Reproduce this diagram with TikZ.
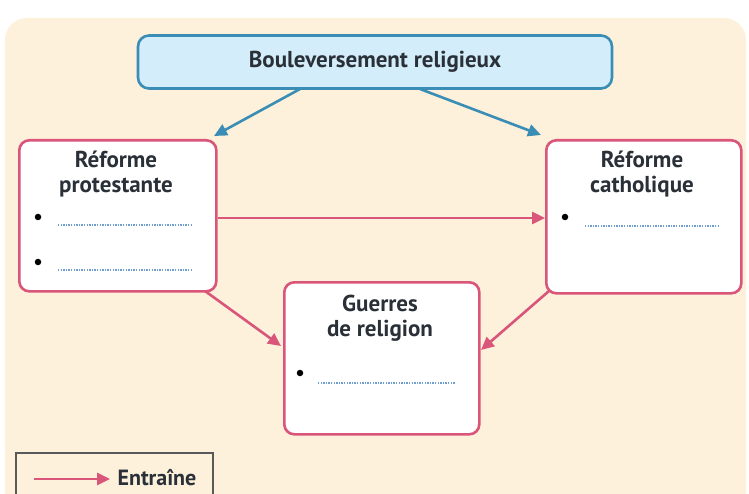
\documentclass[tikz,border=0pt]{standalone}
\usepackage{fontspec}
\setmainfont{PT Sans}
\usetikzlibrary{arrows.meta}
\definecolor{beige}{HTML}{FDF1DC}
\definecolor{pinkb}{HTML}{D9557A}
\definecolor{blueb}{HTML}{3A8DB4}
\definecolor{bluef}{HTML}{D3EDFA}
\definecolor{dotc}{HTML}{6E9FD0}
\definecolor{txt}{HTML}{2A3038}
\tikzset{
  px/.style={x=1pt,y=-1pt},
  pinkbox/.style={draw=pinkb,line width=2.6pt,fill=white,rounded corners=10pt},
  bluebox/.style={draw=blueb,line width=2.6pt,fill=bluef,rounded corners=11pt},
  title/.style={font=\bfseries\fontsize{23}{25}\selectfont,text=txt,align=center},
  pinkarrow/.style={draw=pinkb,line width=2.6pt,-{Triangle[length=13pt,width=12pt]}},
  bluearrow/.style={draw=blueb,line width=2.6pt,-{Triangle[length=13pt,width=12pt]}},
  dotline/.style={draw=dotc,line width=1.3pt,dash pattern=on 1.3pt off 1.3pt},
  bullet/.style={circle,fill=black,inner sep=0pt,minimum size=6.5pt},
}
\begin{document}
\begin{tikzpicture}[px]
\useasboundingbox (0,0) rectangle (749,494);
\fill[white] (0,0) rectangle (749,494);
\fill[beige,rounded corners=22pt] (5,18) rectangle (746,520);
% boxes
\node[bluebox,minimum width=474pt,minimum height=53pt] (top) at (375,62) {};
\node[title] (toptext) at (375,62) {Bouleversement religieux};
\node[pinkbox,minimum width=197pt,minimum height=151pt,anchor=north west] (left) at (18,139) {};
\node[pinkbox,minimum width=195pt,minimum height=153pt,anchor=north west] (right) at (545,139) {};
\node[pinkbox,minimum width=195pt,minimum height=152pt,anchor=north west] (center) at (283,281) {};
% titles
\node[title] (lt) at (116,174) {Réforme\\protestante};
\node[title] (rt) at (642,174) {Réforme\\catholique};
\node[title] (ct) at (380,318) {Guerres\\de religion};
% bullets and dotted lines
\node[bullet] (b1) at (38,217) {};
\coordinate (d1a) at (58,225); \coordinate (d1b) at (192,225);
\draw[dotline] (d1a) -- (d1b);
\node[bullet] (b2) at (38,262) {};
\coordinate (d2a) at (58,270); \coordinate (d2b) at (192,270);
\draw[dotline] (d2a) -- (d2b);
\node[bullet] (b3) at (565,217) {};
\coordinate (d3a) at (585,226); \coordinate (d3b) at (720,226);
\draw[dotline] (d3a) -- (d3b);
\node[bullet] (b4) at (300,373) {};
\coordinate (d4a) at (318,383); \coordinate (d4b) at (455,383);
\draw[dotline] (d4a) -- (d4b);
% arrows
\coordinate (tl) at (300,89); \coordinate (tlend) at (214,136);
\coordinate (tr) at (420,89); \coordinate (trend) at (541,135);
\draw[bluearrow] (tl) -- (tlend);
\draw[bluearrow] (tr) -- (trend);
\draw[pinkarrow] (left.east |- 0,218) -- (right.west |- 0,218);
\coordinate (la) at (205,291); \coordinate (lb) at (281,346);
\draw[pinkarrow] (la) -- (lb);
\coordinate (ra) at (549,291); \coordinate (rb) at (481,350);
\draw[pinkarrow] (ra) -- (rb);
% legend
\draw[draw=gray!70!black,line width=1.4pt] (16,510) -- (16,453) -- (213,453) -- (213,510);
\coordinate (lg1) at (34,479); \coordinate (lg2) at (110,479);
\draw[pinkarrow] (lg1) -- (lg2);
\node[font=\bfseries\fontsize{22}{24}\selectfont,text=txt,anchor=west] (lgt) at (114,478) {Entraîne};
\end{tikzpicture}
\end{document}
